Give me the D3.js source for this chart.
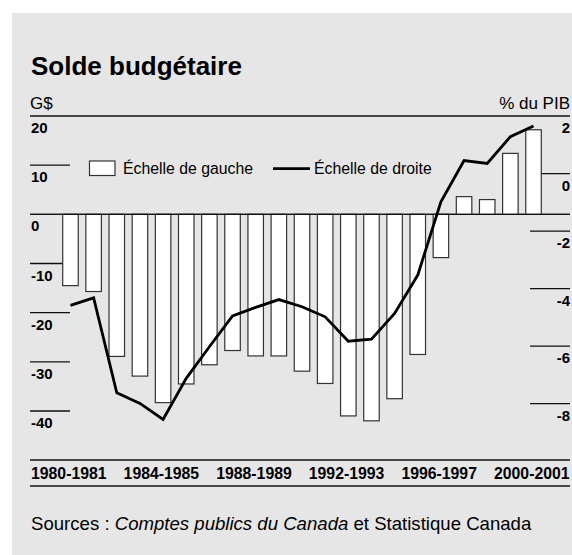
<!DOCTYPE html>
<html>
<head>
<meta charset="utf-8">
<script src="https://cdnjs.cloudflare.com/ajax/libs/d3/7.8.5/d3.min.js"></script>
<style>
  body { margin: 0; background: #fff; }
  text { font-family: "Liberation Sans", Arial, Helvetica, sans-serif; fill: #000; }
</style>
</head>
<body>
<svg id="chart" width="572" height="555"></svg>
<script>
// fiscal years, 1980-1981 .. 2000-2001
var years = ["1980-1981","1981-1982","1982-1983","1983-1984","1984-1985","1985-1986",
  "1986-1987","1987-1988","1988-1989","1989-1990","1990-1991","1991-1992","1992-1993",
  "1993-1994","1994-1995","1995-1996","1996-1997","1997-1998","1998-1999","1999-2000",
  "2000-2001"];

// budget balance, billions $ (left scale, bars)
var soldeGS = [-14.5, -15.7, -28.9, -32.9, -38.3, -34.5, -30.6, -27.7, -28.8, -28.8,
  -31.9, -34.4, -41.0, -42.0, -37.5, -28.5, -8.8, 3.6, 3.0, 12.4, 17.2];

// budget balance, % of GDP (right scale, line)
var soldePIB = [-4.58, -4.32, -7.62, -7.99, -8.55, -7.12, -6.02, -4.95, -4.65, -4.38,
  -4.63, -4.98, -5.83, -5.76, -4.86, -3.53, -0.98, 0.45, 0.35, 1.28, 1.65];

var leftTicks = [20, 10, 0, -10, -20, -30, -40];
var rightTicks = [2, 0, -2, -4, -6, -8];
var xLabels = ["1980-1981","1984-1985","1988-1989","1992-1993","1996-1997","2000-2001"];

var svg = d3.select("#chart");

svg.append("rect")
  .attr("x", 12).attr("y", 13)
  .attr("width", 560).attr("height", 542)
  .attr("fill", "#e6e6e6");

var x = d3.scaleBand()
  .domain(years)
  .range([58.9, 545.1])
  .paddingInner(0.33)
  .paddingOuter(0.165);

var yL = d3.scaleLinear().domain([-40, 20]).range([411, 116]);
var yR = d3.scaleLinear().domain([-8, 2]).range([403.7, 116]);

// title and units
svg.append("text")
  .attr("x", 31).attr("y", 75)
  .style("font-size", "26px").style("font-weight", "bold")
  .text("Solde budgétaire");

svg.append("text")
  .attr("x", 30).attr("y", 109)
  .style("font-size", "17px")
  .text("G$");

svg.append("text")
  .attr("x", 570).attr("y", 108.5)
  .attr("text-anchor", "end")
  .style("font-size", "17px")
  .text("% du PIB");

// left axis: short rules with labels under them
var gl = svg.append("g").attr("class", "left-axis");
gl.selectAll("line")
  .data(leftTicks)
  .enter().append("line")
    .attr("x1", 30)
    .attr("x2", function(d) { return (d === 20 || d === 0) ? 570 : 70; })
    .attr("y1", function(d) { return yL(d); })
    .attr("y2", function(d) { return yL(d); })
    .attr("stroke", "#111")
    .attr("stroke-width", 1.3);
gl.selectAll("text")
  .data(leftTicks)
  .enter().append("text")
    .attr("x", 31)
    .attr("y", function(d) { return yL(d) + 17; })
    .style("font-size", "15px").style("font-weight", "bold")
    .text(function(d) { return d; });

// right axis
var gr = svg.append("g").attr("class", "right-axis");
gr.selectAll("line")
  .data(rightTicks.filter(function(d) { return d !== 2; }))
  .enter().append("line")
    .attr("x1", 530).attr("x2", 570)
    .attr("y1", function(d) { return yR(d); })
    .attr("y2", function(d) { return yR(d); })
    .attr("stroke", "#111")
    .attr("stroke-width", 1.3);
gr.selectAll("text")
  .data(rightTicks)
  .enter().append("text")
    .attr("x", 570)
    .attr("y", function(d) { return yR(d) + 17; })
    .attr("text-anchor", "end")
    .style("font-size", "15px").style("font-weight", "bold")
    .text(function(d) { return d; });

// bars
svg.append("g")
  .selectAll("rect")
  .data(years)
  .enter().append("rect")
    .attr("x", function(d) { return x(d); })
    .attr("width", x.bandwidth())
    .attr("y", function(d, i) { return Math.min(yL(0), yL(soldeGS[i])); })
    .attr("height", function(d, i) { return Math.abs(yL(soldeGS[i]) - yL(0)); })
    .attr("fill", "#fff")
    .attr("stroke", "#333")
    .attr("stroke-width", 1.2);

// zero line drawn again over the bars
svg.append("line")
  .attr("x1", 30).attr("x2", 570)
  .attr("y1", yL(0)).attr("y2", yL(0))
  .attr("stroke", "#111").attr("stroke-width", 1.3);

// % of GDP line
var line = d3.line()
  .x(function(d, i) { return x(years[i]) + x.bandwidth() / 2; })
  .y(function(d) { return yR(d); });

svg.append("path")
  .datum(soldePIB)
  .attr("d", line)
  .attr("fill", "none")
  .attr("stroke", "#000")
  .attr("stroke-width", 2.8)
  .attr("stroke-linejoin", "miter");

// legend
var lg = svg.append("g").attr("class", "legend");
lg.append("rect")
  .attr("x", 89.5).attr("y", 161)
  .attr("width", 25.5).attr("height", 14.5)
  .attr("fill", "#fff").attr("stroke", "#333").attr("stroke-width", 1.2);
lg.append("text")
  .attr("x", 123).attr("y", 174)
  .style("font-size", "15.8px")
  .text("Échelle de gauche");
lg.append("line")
  .attr("x1", 273).attr("x2", 310)
  .attr("y1", 168.7).attr("y2", 168.7)
  .attr("stroke", "#000").attr("stroke-width", 2.8);
lg.append("text")
  .attr("x", 314).attr("y", 174)
  .style("font-size", "15.8px")
  .text("Échelle de droite");

// x axis band
svg.append("line")
  .attr("x1", 30).attr("x2", 570).attr("y1", 460).attr("y2", 460)
  .attr("stroke", "#111").attr("stroke-width", 1.3);
svg.append("line")
  .attr("x1", 30).attr("x2", 570).attr("y1", 486).attr("y2", 486)
  .attr("stroke", "#111").attr("stroke-width", 1.3);

var xl = d3.scalePoint().domain(xLabels).range([31, 494]);
svg.append("g")
  .selectAll("text")
  .data(xLabels)
  .enter().append("text")
    .attr("x", function(d) { return xl(d); })
    .attr("y", 479)
    .style("font-size", "15.8px").style("font-weight", "bold")
    .text(function(d) { return d; });

// sources
var src = svg.append("text")
  .attr("x", 31).attr("y", 530)
  .style("font-size", "18.6px");
src.append("tspan").text("Sources : ");
src.append("tspan").style("font-style", "italic").text("Comptes publics du Canada");
src.append("tspan").text(" et Statistique Canada");
</script>
</body>
</html>
